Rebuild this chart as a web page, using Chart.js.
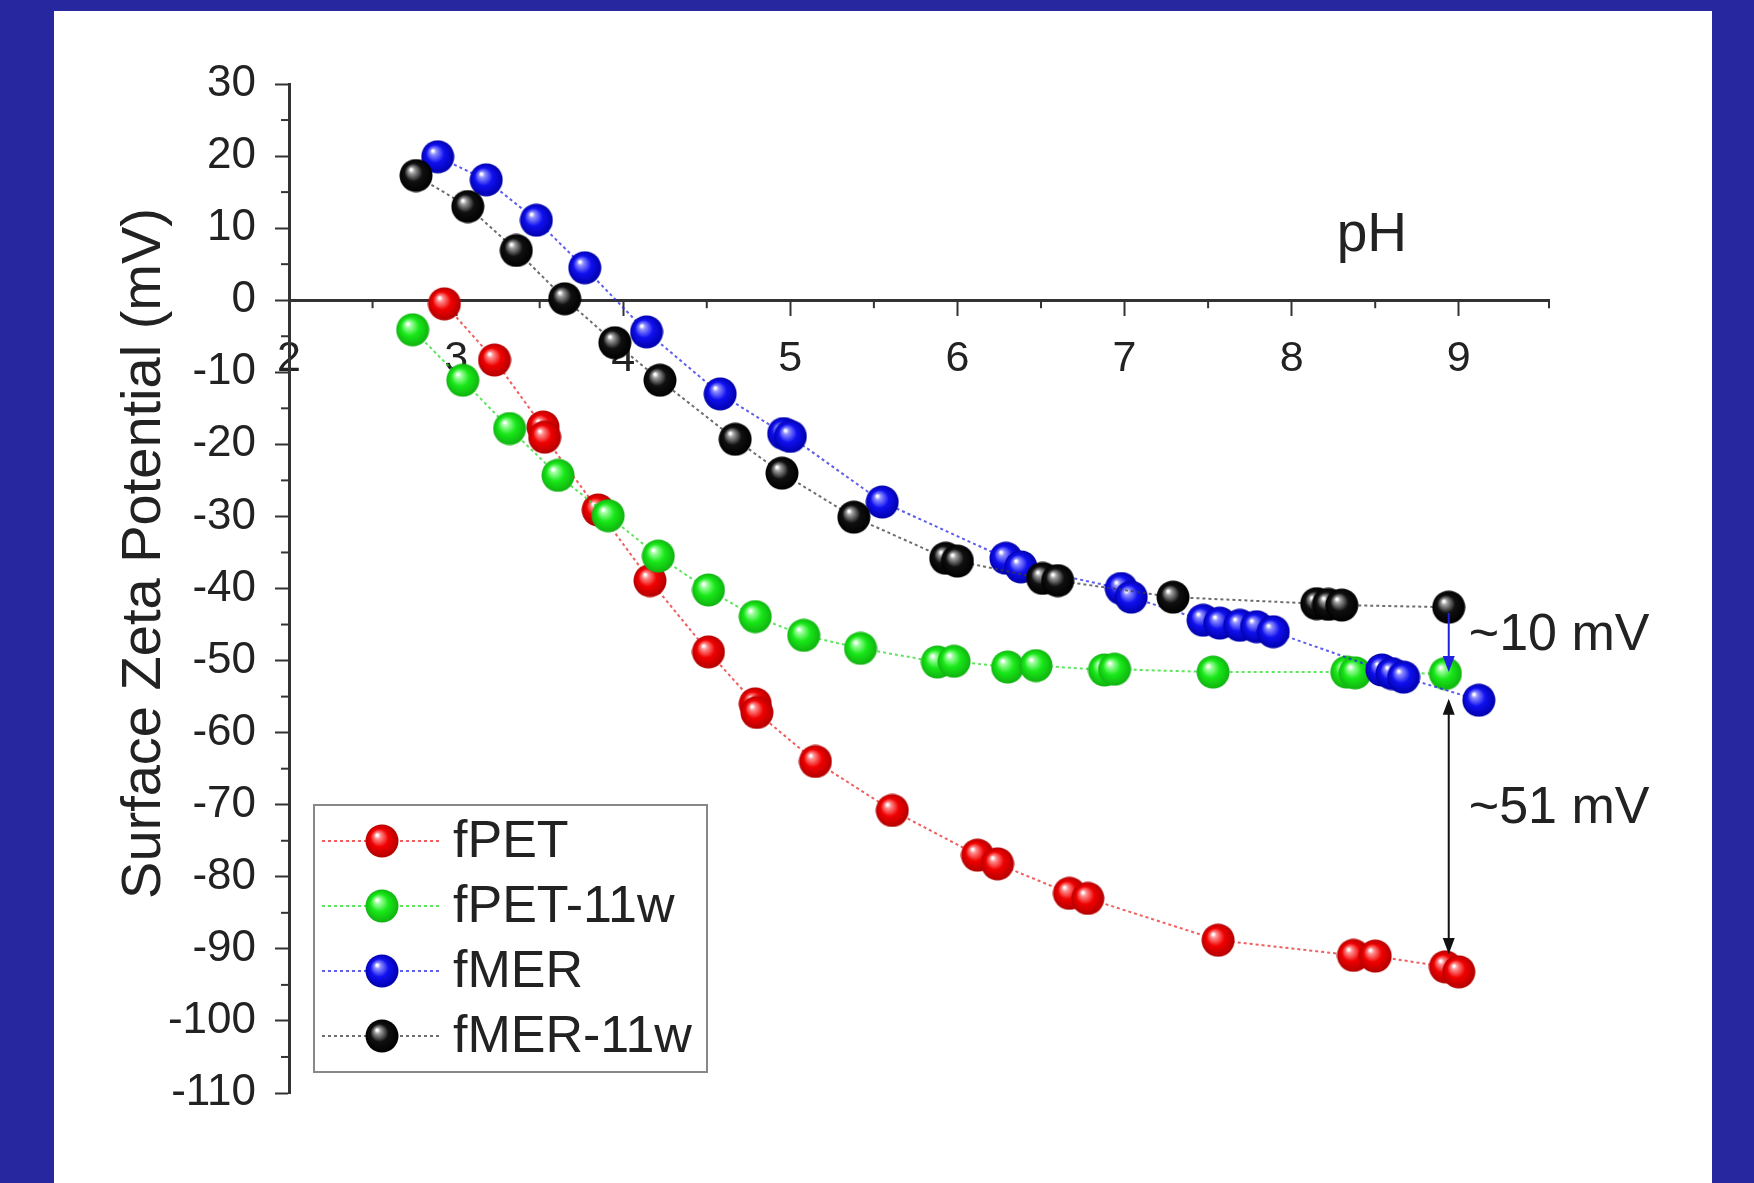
<!DOCTYPE html>
<html lang="en">
<head>
<meta charset="utf-8">
<script src="https://cdn.jsdelivr.net/npm/chart.js"></script>
<style>
    body { margin: 0; background-color: #2727a0; }
    #panel { position: absolute; left: 54px; top: 11px; width: 1658px; height: 1172px; background-color: #ffffff; }
    #zetaChart { position: absolute; left: 0; top: 0; }
</style>
</head>
<body>
<div id="panel"></div>
<canvas id="zetaChart" width="1754" height="1183"></canvas>
<script>
    // values (pH vs surface zeta potential, mV)
    const seriesNames = ['fPET', 'fPET-11w', 'fMER', 'fMER-11w'];

    const fPET_pH   = [2.93, 3.23, 3.52, 3.53, 3.85, 4.16, 4.51, 4.79, 4.80, 5.15, 5.61, 6.12, 6.24, 6.67, 6.78, 7.56, 8.37, 8.50, 8.92, 9.00];
    const fPET_zeta = [-0.5, -8.3, -17.6, -19.0, -29.1, -38.9, -48.8, -56.0, -57.2, -64.0, -70.8, -77.0, -78.2, -82.3, -83.0, -88.8, -90.9, -91.0, -92.5, -93.2];

    const fPET11_pH   = [2.74, 3.04, 3.32, 3.61, 3.91, 4.21, 4.51, 4.79, 5.08, 5.42, 5.88, 5.98, 6.30, 6.47, 6.88, 6.94, 7.53, 8.33, 8.38, 8.92];
    const fPET11_zeta = [-4.1, -11.1, -17.8, -24.3, -29.9, -35.5, -40.2, -43.9, -46.5, -48.3, -50.2, -50.1, -50.9, -50.7, -51.3, -51.2, -51.6, -51.6, -51.7, -51.8];

    const fMER_pH   = [2.89, 3.18, 3.48, 3.77, 4.14, 4.58, 4.96, 5.00, 5.55, 6.29, 6.38, 6.98, 7.04, 7.47, 7.57, 7.69, 7.79, 7.89, 8.54, 8.60, 8.67, 9.12];
    const fMER_zeta = [19.9, 16.7, 11.1, 4.5, -4.4, -13.0, -18.5, -18.9, -28.0, -35.8, -37.0, -40.0, -41.2, -44.4, -44.8, -45.1, -45.3, -46.0, -51.3, -51.8, -52.3, -55.5];

    const fMER11_pH   = [2.76, 3.07, 3.36, 3.65, 3.95, 4.22, 4.67, 4.95, 5.38, 5.93, 6.00, 6.51, 6.60, 7.29, 8.15, 8.22, 8.30, 8.94];
    const fMER11_zeta = [17.3, 13.0, 6.9, 0.2, -5.9, -11.1, -19.3, -24.0, -30.1, -35.8, -36.2, -38.6, -38.9, -41.2, -42.1, -42.2, -42.3, -42.6];

    // the two difference markers at pH ~9
    const gapPH = 8.94;
    const gap10 = [-43.4, -51.6];
    const gap51 = [-55.3, -90.7];

    const FONT = "'Liberation Sans', Arial, sans-serif";
    const lineColors = ['rgba(235,40,40,0.75)', 'rgba(40,220,40,0.75)', 'rgba(40,40,230,0.75)', 'rgba(60,60,60,0.75)'];

    // shiny ball marker like the original plot symbols
    function makeBall(base, edge, shine) {
        const c = document.createElement('canvas');
        c.width = 34;
        c.height = 34;
        const g = c.getContext('2d');
        const grad = g.createRadialGradient(12, 11, 1, 17, 17, 17);
        grad.addColorStop(0, '#ffffff');
        grad.addColorStop(0.13, shine);
        grad.addColorStop(0.5, base);
        grad.addColorStop(1, edge);
        g.fillStyle = grad;
        g.beginPath();
        g.arc(17, 17, 16.5, 0, Math.PI * 2);
        g.fill();
        return c;
    }
    const balls = [
        makeBall('#f00000', '#b00000', '#ff9090'),
        makeBall('#18e818', '#10b010', '#a0ffa0'),
        makeBall('#1010f0', '#0000a8', '#9090ff'),
        makeBall('#101010', '#000000', '#a0a0a0')
    ];

    function series(i, xs, ys) {
        return {
            label: seriesNames[i],
            data: xs.map((x, k) => ({ x: x, y: ys[k] })),
            showLine: true,
            borderColor: lineColors[i],
            borderWidth: 2,
            borderDash: [3, 3],
            pointStyle: balls[i],
            pointRadius: 16,
            order: 4 - i,
            clip: false
        };
    }

    function arrowHead(ctx, x, y, dir) {
        ctx.beginPath();
        ctx.moveTo(x, y);
        ctx.lineTo(x - 6, y - dir * 16);
        ctx.lineTo(x + 6, y - dir * 16);
        ctx.closePath();
        ctx.fill();
    }

    // minor ticks, axis title, legend box and annotations
    const decor = {
        id: 'decor',
        beforeDatasetsDraw(chart) {
            const { ctx, chartArea, scales: { x, y } } = chart;
            const y0 = y.getPixelForValue(0);
            ctx.save();
            ctx.strokeStyle = '#333';
            ctx.lineWidth = 2;
            x.ticks.forEach(t => {
                if (!Number.isInteger(t.value)) {
                    const px = x.getPixelForValue(t.value);
                    ctx.beginPath(); ctx.moveTo(px, y0); ctx.lineTo(px, y0 + 8); ctx.stroke();
                }
            });
            y.ticks.forEach(t => {
                if (t.value % 10 !== 0) {
                    const py = y.getPixelForValue(t.value);
                    ctx.beginPath(); ctx.moveTo(chartArea.left - 8, py); ctx.lineTo(chartArea.left, py); ctx.stroke();
                }
            });
            ctx.restore();
        },
        afterDatasetsDraw(chart) {
            const { ctx, chartArea, scales: { x, y } } = chart;
            ctx.save();

            // y axis title
            ctx.save();
            ctx.translate(chartArea.left - 144, (chartArea.top + chartArea.bottom) / 2 - 35);
            ctx.rotate(-Math.PI / 2);
            ctx.font = '56px ' + FONT;
            ctx.fillStyle = '#222';
            ctx.textAlign = 'center';
            ctx.textBaseline = 'middle';
            ctx.fillText('Surface Zeta Potential (mV)', 0, 0);
            ctx.restore();

            // arrows
            const ax = x.getPixelForValue(gapPH);
            ctx.lineWidth = 2;
            ctx.strokeStyle = '#2020e0';
            ctx.fillStyle = '#2020e0';
            let a = y.getPixelForValue(gap10[0]), b = y.getPixelForValue(gap10[1]);
            ctx.beginPath(); ctx.moveTo(ax, a); ctx.lineTo(ax, b - 10); ctx.stroke();
            arrowHead(ctx, ax, b, 1);

            ctx.strokeStyle = '#111';
            ctx.fillStyle = '#111';
            a = y.getPixelForValue(gap51[0]);
            b = y.getPixelForValue(gap51[1]);
            ctx.beginPath(); ctx.moveTo(ax, a + 10); ctx.lineTo(ax, b - 10); ctx.stroke();
            arrowHead(ctx, ax, a, -1);
            arrowHead(ctx, ax, b, 1);

            // text labels
            ctx.fillStyle = '#222';
            ctx.textAlign = 'left';
            ctx.textBaseline = 'middle';
            ctx.font = '55px ' + FONT;
            ctx.fillText('pH', x.getPixelForValue(8.27), y.getPixelForValue(9));
            ctx.font = '52px ' + FONT;
            ctx.fillText('~10 mV', x.getPixelForValue(9.06), y.getPixelForValue(-46.6));
            ctx.fillText('~51 mV', x.getPixelForValue(9.06), y.getPixelForValue(-70.6));

            // legend box
            const lx = chartArea.left + 25, ly = chartArea.bottom - 288;
            ctx.fillStyle = '#ffffff';
            ctx.fillRect(lx, ly, 393, 267);
            ctx.strokeStyle = '#888';
            ctx.lineWidth = 2;
            ctx.strokeRect(lx, ly, 393, 267);
            chart.data.datasets.forEach((ds, i) => {
                const cy = ly + 36 + i * 65;
                ctx.strokeStyle = ds.borderColor;
                ctx.lineWidth = 2;
                ctx.setLineDash([3, 3]);
                ctx.beginPath(); ctx.moveTo(lx + 8, cy); ctx.lineTo(lx + 128, cy); ctx.stroke();
                ctx.setLineDash([]);
                ctx.drawImage(ds.pointStyle, lx + 68 - 17, cy - 17);
                ctx.fillStyle = '#222';
                ctx.font = '52px ' + FONT;
                ctx.fillText(ds.label, lx + 139, cy + 2);
            });
            ctx.restore();
        }
    };

    new Chart(document.getElementById('zetaChart').getContext('2d'), {
        type: 'scatter',
        data: {
            datasets: [
                series(0, fPET_pH, fPET_zeta),
                series(1, fPET11_pH, fPET11_zeta),
                series(2, fMER_pH, fMER_zeta),
                series(3, fMER11_pH, fMER11_zeta)
            ]
        },
        options: {
            responsive: false,
            maintainAspectRatio: false,
            devicePixelRatio: 1,
            animation: false,
            layout: { padding: { top: 84, right: 205, bottom: 90, left: 0 } },
            plugins: { legend: { display: false }, tooltip: { enabled: false } },
            scales: {
                x: {
                    type: 'linear',
                    min: 2,
                    max: 9.54,
                    position: { y: 0 },
                    border: { color: '#333', width: 3 },
                    grid: {
                        drawOnChartArea: false,
                        tickLength: 14,
                        tickWidth: 2,
                        tickColor: c => Number.isInteger(c.tick.value) ? '#333' : 'rgba(0,0,0,0)'
                    },
                    ticks: {
                        stepSize: 0.5,
                        autoSkip: false,
                        maxRotation: 0,
                        padding: 19,
                        color: '#222',
                        font: { family: FONT, size: 43 },
                        callback: v => Number.isInteger(v) && v <= 9 ? String(v) : ''
                    }
                },
                y: {
                    min: -110,
                    max: 30,
                    border: { color: '#333', width: 3 },
                    afterFit: s => { s.width = 289; },
                    grid: {
                        drawOnChartArea: false,
                        tickLength: 14,
                        tickWidth: 2,
                        tickColor: c => c.tick.value % 10 === 0 ? '#333' : 'rgba(0,0,0,0)'
                    },
                    ticks: {
                        stepSize: 5,
                        autoSkip: false,
                        padding: 19,
                        color: '#222',
                        font: { family: FONT, size: 44 },
                        callback: v => v % 10 === 0 ? String(v) : ''
                    }
                }
            }
        },
        plugins: [decor]
    });
</script>
</body>
</html>
